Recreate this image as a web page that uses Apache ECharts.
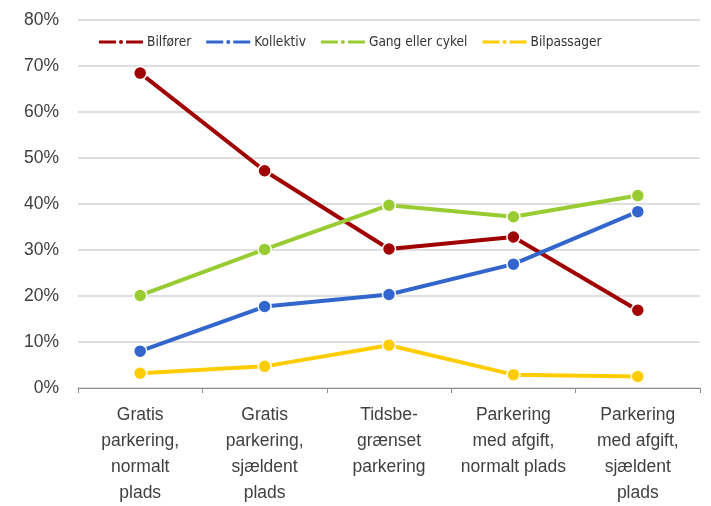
<!DOCTYPE html>
<html>
<head>
<meta charset="utf-8">
<script src="https://cdn.jsdelivr.net/npm/echarts@6/dist/echarts.min.js"></script>
<style>
    html, body { margin: 0; padding: 0; background: #fff; }
    #chart { width: 711px; height: 506px; }
</style>
</head>
<body>
<div id="chart"></div>
<script>
// kategorier og data (andel i %)
var categories = [
    'Gratis\nparkering,\nnormalt\nplads',
    'Gratis\nparkering,\nsjældent\nplads',
    'Tidsbe-\ngrænset\nparkering',
    'Parkering\nmed afgift,\nnormalt plads',
    'Parkering\nmed afgift,\nsjældent\nplads'
];
var bilforer = [68.4, 47.2, 30.2, 32.8, 16.9];
var kollektiv = [8.0, 17.7, 20.3, 26.9, 38.3];
var gangCykel = [20.1, 30.1, 39.7, 37.2, 41.8];
var bilpassager = [3.2, 4.7, 9.3, 2.9, 2.5];

var seriesNames = ['Bilfører', 'Kollektiv', 'Gang eller cykel', 'Bilpassager'];
var seriesColors = ['#A00000', '#3366CC', '#99CC33', '#FFCC00'];

// legend-ikon: streg - prik - streg
var legendIcon = 'path://M0,1.5H19V6.5H0Z M27,1.5H46V6.5H27Z M20,4A3,3 0 1,1 26,4A3,3 0 1,1 20,4Z';

var chart = echarts.init(document.getElementById('chart'));

function makeSeries(name, color, data) {
    return {
        name: name,
        type: 'line',
        data: data,
        symbol: 'circle',
        symbolSize: 13,
        lineStyle: { width: 4, color: color },
        itemStyle: { color: color, borderColor: '#fff', borderWidth: 1.5 },
        emphasis: { disabled: true }
    };
}

var option = {
    animation: false,
    textStyle: { fontFamily: 'Liberation Sans Narrow, Liberation Sans, sans-serif' },
    legend: {
        left: 92,
        top: 30,
        icon: legendIcon,
        itemWidth: 46,
        itemHeight: 8,
        itemGap: 13,
        textStyle: { fontFamily: 'DejaVu Sans Condensed, DejaVu Sans, sans-serif', fontSize: 13.6, color: '#333', padding: [0, 0, 0, -2] },
        data: seriesNames
    },
    grid: { left: 78, width: 622, top: 19.7, height: 371, containLabel: false },
    xAxis: {
        type: 'category',
        data: categories,
        boundaryGap: true,
        axisLine: { lineStyle: { color: '#8c8c8c', width: 1 } },
        axisTick: { show: true, length: 5, lineStyle: { color: '#8c8c8c' } },
        axisLabel: {
            interval: 0,
            margin: 14,
            fontSize: 17.5,
            lineHeight: 26,
            color: '#404040',
            align: 'center'
        }
    },
    yAxis: {
        type: 'value',
        min: 0,
        max: 80,
        interval: 10,
        axisLine: { show: false },
        axisTick: { show: false },
        splitLine: { lineStyle: { color: '#d4d4d4', width: 1.5 } },
        axisLabel: {
            formatter: '{value}%',
            fontSize: 17.5,
            color: '#404040',
            margin: 19
        }
    },
    series: [
        makeSeries(seriesNames[0], seriesColors[0], bilforer),
        makeSeries(seriesNames[1], seriesColors[1], kollektiv),
        makeSeries(seriesNames[2], seriesColors[2], gangCykel),
        makeSeries(seriesNames[3], seriesColors[3], bilpassager)
    ]
};
chart.setOption(option);
</script>
</body>
</html>
